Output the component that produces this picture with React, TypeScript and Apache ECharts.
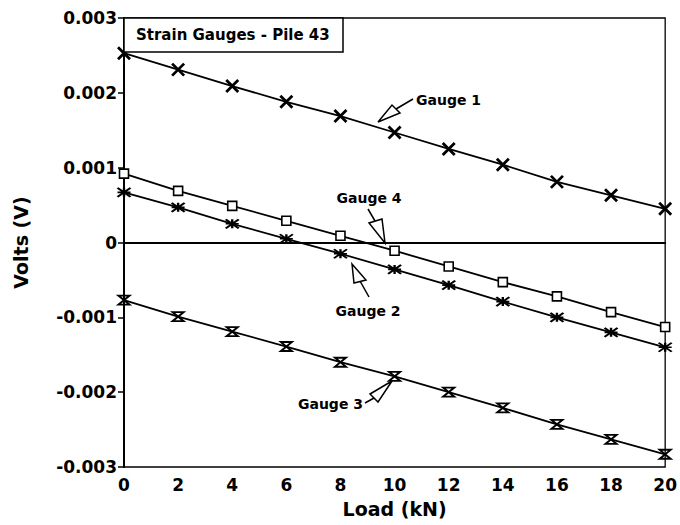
import React, { useEffect, useRef } from "react";
import * as echarts from "echarts";

const loads = [0, 2, 4, 6, 8, 10, 12, 14, 16, 18, 20];
const gauge1 = [0.00253, 0.00231, 0.00209, 0.00188, 0.00169, 0.00147, 0.00125, 0.00104, 0.00081, 0.00063, 0.00045];
const gauge2 = [0.00067, 0.00047, 0.00025, 0.00005, -0.00015, -0.00036, -0.00057, -0.00079, -0.001, -0.0012, -0.0014];
const gauge3 = [-0.00077, -0.00099, -0.00119, -0.00139, -0.0016, -0.00179, -0.002, -0.00221, -0.00243, -0.00263, -0.00283];
const gauge4 = [0.00092, 0.00069, 0.00049, 0.00029, 0.00009, -0.00011, -0.00032, -0.00053, -0.00072, -0.00093, -0.00113];

const seriesNames = ["Gauge 1", "Gauge 2", "Gauge 3", "Gauge 4"];
const titleText = "Strain Gauges - Pile 43";
const xName = "Load (kN)";
const yName = "Volts (V)";

const FONT = "DejaVu Sans";

export default function App() {
  const ref = useRef<HTMLDivElement>(null);
  useEffect(() => {
    if (!ref.current) return;
    const chart = echarts.init(ref.current, null, { renderer: "svg" });
    const pair = (arr: number[]) => loads.map((x, i) => [x, arr[i]]);
    const baseLine = { color: "#000", width: 1.8 };
    const sym = {
      x: "path://M0,0L10,10M10,0L0,10",
      ast: "path://M0,0L10,10M10,0L0,10M0,5L10,5M5,0L5,10",
      hour: "path://M0,0L10,0L0,10L10,10Z",
    };
    const annText = (x: number, y: number, text: string, align: string) => ({
      type: "text",
      x,
      y,
      style: { text, fontFamily: FONT, fontWeight: "bold", fontSize: 14, fill: "#000", align, verticalAlign: "middle" },
      z: 11,
    });
    chart.setOption({
      animation: false,
      backgroundColor: "#fff",
      grid: { left: 124, right: 12, top: 18, bottom: 58, show: true, borderColor: "#000", borderWidth: 1.3 },
      xAxis: {
        type: "value",
        min: 0,
        max: 20,
        interval: 2,
        name: xName,
        nameLocation: "middle",
        nameGap: 32,
        nameTextStyle: { fontFamily: FONT, fontWeight: "bold", fontSize: 19, color: "#000" },
        axisLine: { lineStyle: { color: "#000", width: 2 } },
        axisTick: { show: false },
        splitLine: { show: false },
        axisLabel: { fontFamily: FONT, fontWeight: "bold", fontSize: 17, color: "#000", margin: 9 },
      },
      yAxis: {
        type: "value",
        min: -0.003,
        max: 0.003,
        interval: 0.001,
        name: yName,
        nameLocation: "middle",
        nameGap: 94,
        nameTextStyle: { fontFamily: FONT, fontWeight: "bold", fontSize: 19, color: "#000" },
        axisLine: { lineStyle: { color: "#000", width: 2 } },
        axisTick: { show: true, inside: false, length: 6, lineStyle: { color: "#000", width: 1.5 } },
        splitLine: { show: false },
        axisLabel: {
          fontFamily: FONT,
          fontWeight: "bold",
          fontSize: 17,
          color: "#000",
          margin: 7,
          formatter: (v: number) => (Math.abs(v) < 1e-9 ? "0" : v.toFixed(3)),
        },
      },
      series: [
        {
          name: seriesNames[0],
          type: "line",
          data: pair(gauge1),
          symbol: sym.x,
          symbolSize: 12,
          lineStyle: baseLine,
          itemStyle: { color: "transparent", borderColor: "#000", borderWidth: 2.8 },
          markLine: {
            silent: true,
            symbol: "none",
            label: { show: false },
            lineStyle: { color: "#000", width: 1.5, type: "solid" },
            data: [{ yAxis: 0 }],
          },
        },
        {
          name: seriesNames[1],
          type: "line",
          data: pair(gauge2),
          symbol: sym.ast,
          symbolSize: [13, 9],
          lineStyle: baseLine,
          itemStyle: { color: "transparent", borderColor: "#000", borderWidth: 2 },
        },
        {
          name: seriesNames[2],
          type: "line",
          data: pair(gauge3),
          symbol: sym.hour,
          symbolSize: [11, 9],
          lineStyle: baseLine,
          itemStyle: { color: "transparent", borderColor: "#000", borderWidth: 2 },
        },
        {
          name: seriesNames[3],
          type: "line",
          data: pair(gauge4),
          symbol: "rect",
          symbolSize: 9,
          lineStyle: baseLine,
          itemStyle: { color: "#fff", borderColor: "#000", borderWidth: 1.6 },
        },
      ],
      graphic: [
        {
          type: "rect",
          shape: { x: 124, y: 18, width: 219, height: 34 },
          style: { fill: "#fff", stroke: "#000", lineWidth: 1.5 },
          z: 10,
        },
        {
          type: "text",
          x: 136,
          y: 35,
          style: { text: titleText, fontFamily: FONT, fontWeight: "bold", fontSize: 15, fill: "#000", verticalAlign: "middle" },
          z: 11,
        },
        // Gauge 1 annotation
        annText(416, 100, seriesNames[0], "left"),
        { type: "line", shape: { x1: 396, y1: 109, x2: 413, y2: 99 }, style: { stroke: "#000", lineWidth: 1.5 }, z: 11 },
        { type: "polygon", shape: { points: [[378, 122], [392, 105], [400, 113]] }, style: { fill: "#fff", stroke: "#000", lineWidth: 1.5 }, z: 11 },
        // Gauge 4 annotation
        annText(369, 198, seriesNames[3], "center"),
        { type: "line", shape: { x1: 368, y1: 209, x2: 375, y2: 221 }, style: { stroke: "#000", lineWidth: 1.5 }, z: 11 },
        { type: "polygon", shape: { points: [[385, 243], [369, 223], [382, 219]] }, style: { fill: "#fff", stroke: "#000", lineWidth: 1.5 }, z: 11 },
        // Gauge 2 annotation
        annText(368, 311, seriesNames[1], "center"),
        { type: "line", shape: { x1: 360, y1: 281, x2: 369, y2: 297 }, style: { stroke: "#000", lineWidth: 1.5 }, z: 11 },
        { type: "polygon", shape: { points: [[352, 264], [354, 283], [366, 280]] }, style: { fill: "#fff", stroke: "#000", lineWidth: 1.5 }, z: 11 },
        // Gauge 3 annotation
        annText(363, 404, seriesNames[2], "right"),
        { type: "line", shape: { x1: 374, y1: 398, x2: 365, y2: 403 }, style: { stroke: "#000", lineWidth: 1.5 }, z: 11 },
        { type: "polygon", shape: { points: [[392, 381], [370, 394], [378, 402]] }, style: { fill: "#fff", stroke: "#000", lineWidth: 1.5 }, z: 11 },
      ],
    });
    return () => chart.dispose();
  }, []);
  return <div ref={ref} style={{ width: 680, height: 525, position: "absolute", left: 0, top: 0 }} />;
}
